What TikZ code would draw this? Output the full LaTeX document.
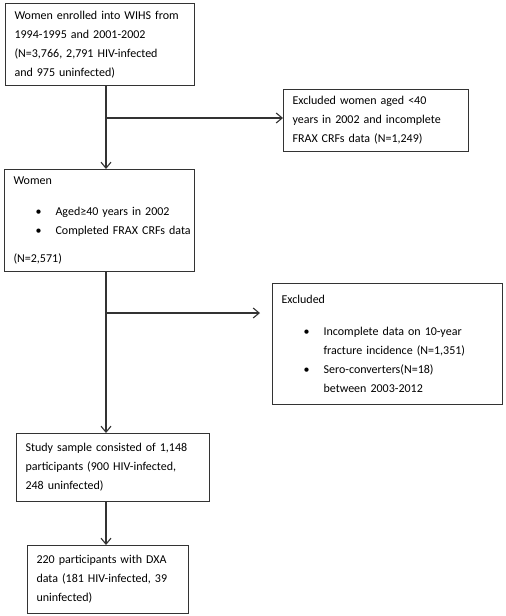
\documentclass[tikz,border=0pt]{standalone}
\usepackage{fontspec}
\setmainfont{Carlito}
\usetikzlibrary{arrows.meta}
\tikzset{
  flowbox/.style={draw=black!80, line width=1.1pt, anchor=north west, align=left,
    inner xsep=9pt, inner ysep=0pt, text=black, font=\fontsize{12}{19}\selectfont},
  flowarrow/.style={draw=black!80, line width=1.1pt, -{Straight Barb[length=6pt,width=10pt]}}
}
\newcommand{\bul}[1]{\hspace*{22pt}\makebox[20pt][l]{\textbullet}\mbox{#1}}
\newcommand{\ind}[1]{\hspace*{42pt}\mbox{#1}}
\begin{document}
\begin{tikzpicture}[x=1pt,y=-1pt]
  \useasboundingbox (0,0) rectangle (506,616);
  \node[flowbox, text width=171pt, minimum height=82pt] (enrol) at (5,3)
    {Women enrolled into WIHS from\\1994-1995 and 2001-2002\\(N=3,766, 2,791 HIV-infected\\and 975 uninfected)};
  \node[flowbox, text width=167pt, minimum height=62pt] (frax) at (283,89)
    {Excluded women aged <40\\years in 2002 and incomplete\\FRAX CRFs data (N=1,249)};
  \node[flowbox, text width=172pt, minimum height=102pt] (women) at (4,169)
    {Women\\[12pt]\bul{Aged≥40 years in 2002}\\\bul{Completed FRAX CRFs data}\\[9pt](N=2,571)};
  \node[flowbox, text width=212pt, minimum height=121pt] (excl) at (272,283)
    {Excluded\\[13pt]\bul{Incomplete data on 10-year}\\\ind{fracture incidence (N=1,351)}\\\bul{Sero-converters(N=18)}\\\ind{between 2003-2012}};
  \node[flowbox, text width=175pt, minimum height=68pt] (sample) at (16,433)
    {Study sample consisted of 1,148\\participants (900 HIV-infected,\\248 uninfected)};
  \node[flowbox, text width=143pt, minimum height=68pt] (dxa) at (27,545)
    {220 participants with DXA\\data (181 HIV-infected, 39\\uninfected)};
  \coordinate (split1) at (106,118);
  \coordinate (split2) at (106,313);
  \coordinate (exclend) at (260,313);
  \draw[flowarrow] (enrol.south -| split1) -- (women.north -| split1);
  \draw[flowarrow] (split1) -- (split1 -| frax.west);
  \draw[flowarrow] (women.south -| split2) -- (sample.north -| split2);
  \draw[flowarrow] (split2) -- (exclend);
  \draw[flowarrow] (sample.south -| split2) -- (dxa.north -| split2);
\end{tikzpicture}
\end{document}
